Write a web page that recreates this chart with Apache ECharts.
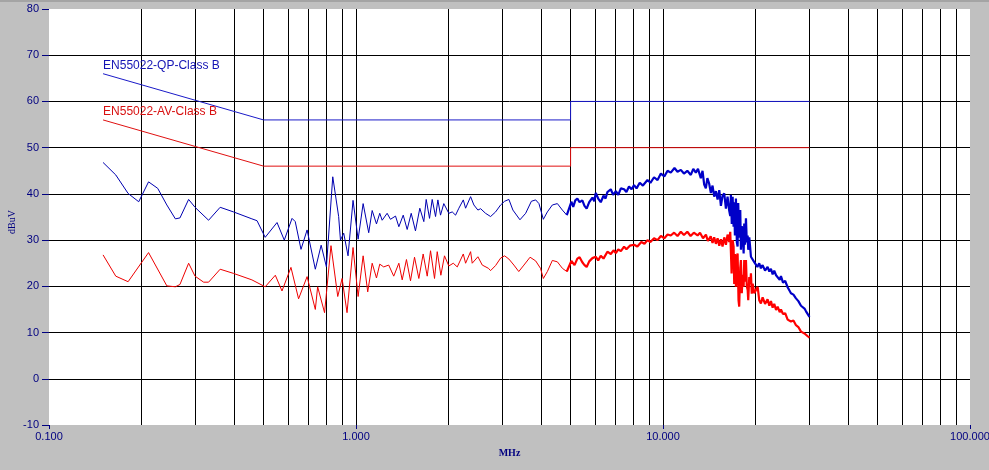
<!DOCTYPE html>
<html><head><meta charset="utf-8">
<script src="https://cdn.jsdelivr.net/npm/echarts@6/dist/echarts.min.js"></script>
<style>html,body{margin:0;padding:0;background:#c0c0c0}#c{width:989px;height:470px}</style>
</head><body><div id="c"></div><script>
// Limit lines (frequency MHz, dBuV)
const qpLimit = [[0.15, 66], [0.5, 56], [5, 56], [5, 60], [30, 60]];
const avLimit = [[0.15, 56], [0.5, 46], [5, 46], [5, 50], [30, 50]];
const qpLimitName = 'EN55022-QP-Class B';
const avLimitName = 'EN55022-AV-Class B';
// Minor vertical grid frequencies
const minorFreqs = [0.2, 0.3, 0.4, 0.5, 0.6, 0.7, 0.8, 0.9, 2, 3, 4, 5, 6, 7, 8, 9, 20, 30, 40, 50, 60, 70, 80, 90];
const xTickDecimals = 3;

// Quasi-peak trace, low-frequency part
const qpLow = [[0.150,46.8],[0.165,44.1],[0.181,40.1],[0.196,38.3],[0.211,42.6],[0.226,41.2],[0.242,37.6],[0.258,34.6],[0.267,34.8],[0.285,38.8],[0.299,37.1],[0.331,34.3],[0.361,37.1],[0.399,36.1],[0.458,34.6],[0.476,34.2],[0.506,30.6],[0.553,33.8],[0.584,30.0],[0.619,34.7],[0.634,34.0],[0.662,28.0],[0.693,32.2],[0.737,23.7],[0.770,28.9],[0.801,24.2],[0.840,43.7],[0.878,35.1],[0.890,30.0],[0.912,31.5],[0.942,26.6],[0.978,38.6],[1.016,30.2],[1.055,37.9],[1.100,31.6],[1.129,36.4],[1.166,33.5],[1.195,35.8],[1.217,34.3],[1.263,35.8],[1.295,34.5],[1.345,35.2],[1.379,32.9],[1.425,35.4],[1.468,32.3],[1.513,35.8],[1.562,32.0],[1.614,36.9],[1.663,34.0],[1.693,38.8],[1.736,34.7],[1.771,38.8],[1.816,35.1],[1.848,38.7],[1.885,35.4],[1.932,37.9],[2.006,35.8],[2.058,36.1],[2.110,35.4],[2.163,36.9],[2.236,38.7],[2.275,36.9],[2.362,39.4],[2.421,37.6],[2.495,36.5],[2.546,36.8],[2.642,35.8],[2.744,35.1],[2.849,36.1],[2.958,37.6],[3.048,38.4],[3.148,38.8],[3.244,36.5],[3.420,34.4],[3.570,35.8],[3.726,38.4],[3.848,38.7],[3.944,37.9],[4.076,34.5],[4.201,36.1],[4.361,37.6],[4.528,37.9],[4.701,36.5],[4.860,35.4]];
// Quasi-peak trace, high-frequency (dense) part
const qpHigh = [[4.86,35.4],[5.03,38.3],[5.10,37.2],[5.18,38.6],[5.26,39.0],[5.35,38.2],[5.46,38.6],[5.55,37.4],[5.64,36.8],[5.75,38.2],[5.89,39.2],[5.97,38.4],[6.04,40.2],[6.15,39.0],[6.27,38.2],[6.40,39.6],[6.50,39.0],[6.59,40.4],[6.76,41.0],[6.88,39.8],[7.02,40.6],[7.15,39.8],[7.29,41.2],[7.47,41.0],[7.60,40.4],[7.75,41.6],[7.90,41.0],[8.05,41.9],[8.20,41.2],[8.40,42.4],[8.60,41.8],[8.90,43.0],[9.10,42.4],[9.35,43.6],[9.60,43.0],[9.84,44.4],[10.1,43.8],[10.35,45.0],[10.6,44.6],[10.9,45.6],[11.15,44.8],[11.43,45.2],[11.7,44.4],[12.0,45.0],[12.32,44.1],[12.55,45.4],[12.79,44.6],[13.0,45.4],[13.28,43.4],[13.45,45.0],[13.62,42.0],[13.79,41.2],[13.95,43.4],[14.13,42.3],[14.32,40.2],[14.5,41.8],[14.68,39.4],[14.87,40.6],[15.06,38.8],[15.25,40.8],[15.44,37.4],[15.63,39.6],[15.83,40.1],[16.03,36.8],[16.23,39.4],[16.43,36.4],[16.56,35.2],[16.64,39.8],[16.75,33.5],[16.86,39.4],[16.98,32.9],[17.06,38.2],[17.15,31.0],[17.28,39.0],[17.40,29.5],[17.50,28.6],[17.58,38.0],[17.71,30.5],[17.85,36.5],[17.94,27.9],[18.06,33.0],[18.17,31.5],[18.31,27.1],[18.39,33.6],[18.50,29.0],[18.63,34.7],[18.75,29.5],[18.87,31.0],[18.95,27.9],[19.1,30.6],[19.24,28.2],[19.34,26.4],[19.59,26.1],[19.85,25.2],[20.08,25.0],[20.3,24.2],[20.58,25.0],[20.84,23.9],[21.11,24.6],[21.5,23.4],[21.91,24.2],[22.2,23.2],[22.47,23.8],[22.76,22.6],[23.03,23.4],[23.35,22.4],[23.63,22.8],[24.0,21.4],[24.22,22.2],[24.6,20.8],[25.0,21.2],[25.47,19.8],[25.78,20.0],[26.11,18.5],[26.6,18.2],[27.11,17.4],[27.6,16.8],[28.15,15.8],[28.51,15.6],[28.9,15.2],[29.23,14.6],[29.6,14.2],[30.0,13.4]];

// Average trace, low-frequency part
const avLow = [[0.150,26.8],[0.165,22.2],[0.181,21.0],[0.211,27.3],[0.242,20.1],[0.258,19.9],[0.267,20.4],[0.285,25.0],[0.299,22.2],[0.319,20.9],[0.331,20.9],[0.361,23.7],[0.399,22.8],[0.458,21.4],[0.506,19.9],[0.546,22.4],[0.574,19.0],[0.614,24.1],[0.650,17.3],[0.693,22.1],[0.737,15.0],[0.750,19.9],[0.790,14.3],[0.829,28.8],[0.872,17.8],[0.901,21.7],[0.935,14.3],[0.978,28.4],[1.016,17.8],[1.055,26.6],[1.092,18.8],[1.129,25.0],[1.166,21.8],[1.195,24.8],[1.231,24.2],[1.278,24.6],[1.327,22.2],[1.379,25.0],[1.414,21.4],[1.460,25.8],[1.505,21.2],[1.551,26.3],[1.602,21.7],[1.655,27.0],[1.706,22.2],[1.749,27.7],[1.802,21.7],[1.839,27.5],[1.890,22.4],[1.942,26.6],[2.006,24.4],[2.074,25.0],[2.137,24.2],[2.236,27.0],[2.275,25.0],[2.362,27.5],[2.391,25.0],[2.495,26.4],[2.578,24.6],[2.700,23.9],[2.744,23.4],[2.849,24.5],[2.958,26.1],[3.048,26.6],[3.148,25.9],[3.268,24.6],[3.390,23.2],[3.524,24.6],[3.690,26.3],[3.848,25.5],[3.990,23.9],[4.076,21.7],[4.201,23.2],[4.361,25.6],[4.528,25.3],[4.701,23.9],[4.860,23.2]];
// Average trace, high-frequency (dense) part
const avHigh = [[4.86,23.2],[5.03,25.5],[5.15,24.6],[5.26,26.0],[5.35,26.3],[5.46,25.2],[5.55,24.6],[5.64,24.2],[5.75,25.4],[5.89,26.1],[6.04,26.4],[6.15,25.6],[6.27,26.6],[6.40,26.0],[6.59,27.5],[6.76,27.0],[6.90,27.8],[7.02,27.2],[7.15,28.0],[7.29,27.6],[7.47,28.6],[7.60,28.0],[7.80,28.8],[8.05,29.0],[8.25,28.6],[8.50,29.6],[8.70,29.2],[8.90,30.0],[9.10,29.6],[9.35,30.4],[9.60,30.0],[9.84,30.9],[10.1,30.4],[10.35,31.2],[10.6,31.0],[10.87,31.6],[11.15,30.9],[11.43,31.8],[11.7,31.1],[12.0,31.8],[12.3,30.9],[12.6,31.6],[12.96,31.0],[13.2,31.6],[13.5,30.4],[13.8,31.2],[14.0,29.8],[14.3,30.8],[14.5,29.4],[14.68,30.6],[14.87,29.2],[15.06,30.4],[15.25,28.8],[15.44,30.2],[15.63,28.6],[15.83,30.6],[16.03,29.0],[16.23,31.2],[16.43,29.6],[16.56,31.8],[16.64,32.2],[16.73,22.8],[16.86,30.0],[16.98,28.6],[17.06,20.5],[17.15,27.0],[17.28,19.9],[17.40,26.5],[17.50,27.1],[17.62,17.0],[17.71,15.6],[17.85,24.0],[17.94,25.7],[18.06,18.5],[18.17,22.5],[18.31,19.9],[18.39,25.7],[18.50,21.0],[18.63,25.7],[18.75,20.0],[18.87,19.2],[18.95,17.0],[19.1,22.0],[19.24,20.5],[19.34,22.8],[19.46,18.4],[19.59,20.6],[19.83,18.5],[20.08,19.2],[20.34,19.9],[20.58,17.0],[20.84,16.3],[21.11,17.6],[21.5,16.2],[21.91,17.2],[22.2,15.8],[22.47,16.8],[22.76,15.4],[23.03,16.2],[23.35,14.9],[23.63,15.6],[24.0,14.4],[24.22,15.0],[24.6,14.0],[25.0,14.2],[25.47,12.8],[25.78,13.2],[26.11,12.4],[26.6,12.6],[27.11,11.6],[27.6,11.2],[28.15,10.2],[28.51,10.6],[28.9,9.8],[29.23,10.0],[29.6,9.2],[30.0,8.9]];

const FONT = 'Liberation Sans';
const NAVY = '#000080';
const chart = echarts.init(document.getElementById('c'), null, {renderer: 'canvas'});

function limitData(arr, color) {
  return arr.map((p, i) => i === 0 ? {
    value: p,
    label: {show: true, position: 'top', align: 'left', distance: 2,
      formatter: '{a}', color: color, fontSize: 12, fontFamily: FONT}
  } : {value: p});
}
const lineBase = {type: 'line', showSymbol: true, symbol: 'circle', symbolSize: 0,
  animation: false, silent: true, emphasis: {disabled: true}, z: 10};

chart.setOption({
  backgroundColor: '#c0c0c0',
  animation: false,
  graphic: [{type: 'rect', shape: {x: 0, y: 0, width: 989, height: 2}, style: {fill: '#a4a4a4'}, silent: true}],
  grid: {left: 49, right: 19, top: 9, bottom: 45, show: true, backgroundColor: '#ffffff', borderWidth: 0,
    containLabel: false, outerBoundsMode: 'none'},
  xAxis: {
    type: 'log', logBase: 10, min: 0.1, max: 100, z: 0,
    axisLine: {show: false, onZero: false},
    axisTick: {show: true, length: 4, lineStyle: {color: NAVY}},
    axisLabel: {color: NAVY, fontSize: 11, fontFamily: FONT, margin: 6,
      formatter: v => Number(v).toFixed(xTickDecimals)},
    splitLine: {show: true, showMinLine: false, showMaxLine: false, lineStyle: {color: '#000', width: 1}},
    name: 'MHz', nameLocation: 'middle', nameGap: 23, nameMoveOverlap: false,
    nameTextStyle: {color: NAVY, fontSize: 10, fontWeight: 'bold', fontFamily: 'Liberation Serif'}
  },
  yAxis: {
    type: 'value', min: -10, max: 80, interval: 10, z: 0,
    axisLine: {show: false, onZero: false},
    axisTick: {show: true, length: 7, lineStyle: {color: NAVY}},
    axisLabel: {color: NAVY, fontSize: 11, fontFamily: FONT, margin: 10},
    splitLine: {show: true, showMinLine: false, showMaxLine: false, lineStyle: {color: '#000', width: 1}},
    name: 'dBuV', nameLocation: 'middle', nameGap: 32, nameRotate: 90, nameMoveOverlap: false,
    nameTextStyle: {color: NAVY, fontSize: 10, fontFamily: 'Liberation Serif', padding: [0, 10, 0, 0]}
  },
  series: [
    {type: 'line', data: [[0.1, -10]], symbol: 'none', lineStyle: {opacity: 0}, silent: true, animation: false, z: 1,
      markLine: {silent: true, symbol: 'none', animation: false, label: {show: false}, z: 1,
        emphasis: {disabled: true},
        lineStyle: {color: '#000', type: 'solid', width: 1},
        data: minorFreqs.map(f => ({xAxis: f}))}},
    Object.assign({}, lineBase, {name: qpLimitName, data: limitData(qpLimit, '#1414b4'),
      lineStyle: {color: '#1a1ac8', width: 1}, itemStyle: {color: '#1a1ac8'}}),
    Object.assign({}, lineBase, {name: avLimitName, data: limitData(avLimit, '#d81010'),
      lineStyle: {color: '#e01010', width: 1}, itemStyle: {color: '#e01010'}}),
    Object.assign({}, lineBase, {name: 'QP', data: qpLow, showSymbol: false, symbol: 'none',
      lineStyle: {color: '#0000b0', width: 1}}),
    Object.assign({}, lineBase, {name: 'QP', data: qpHigh, showSymbol: false, symbol: 'none',
      lineStyle: {color: '#0000c8', width: 2.2}}),
    Object.assign({}, lineBase, {name: 'AV', data: avLow, showSymbol: false, symbol: 'none',
      lineStyle: {color: '#ee0000', width: 1}}),
    Object.assign({}, lineBase, {name: 'AV', data: avHigh, showSymbol: false, symbol: 'none',
      lineStyle: {color: '#ff0000', width: 2.2}})
  ]
});
</script></body></html>
